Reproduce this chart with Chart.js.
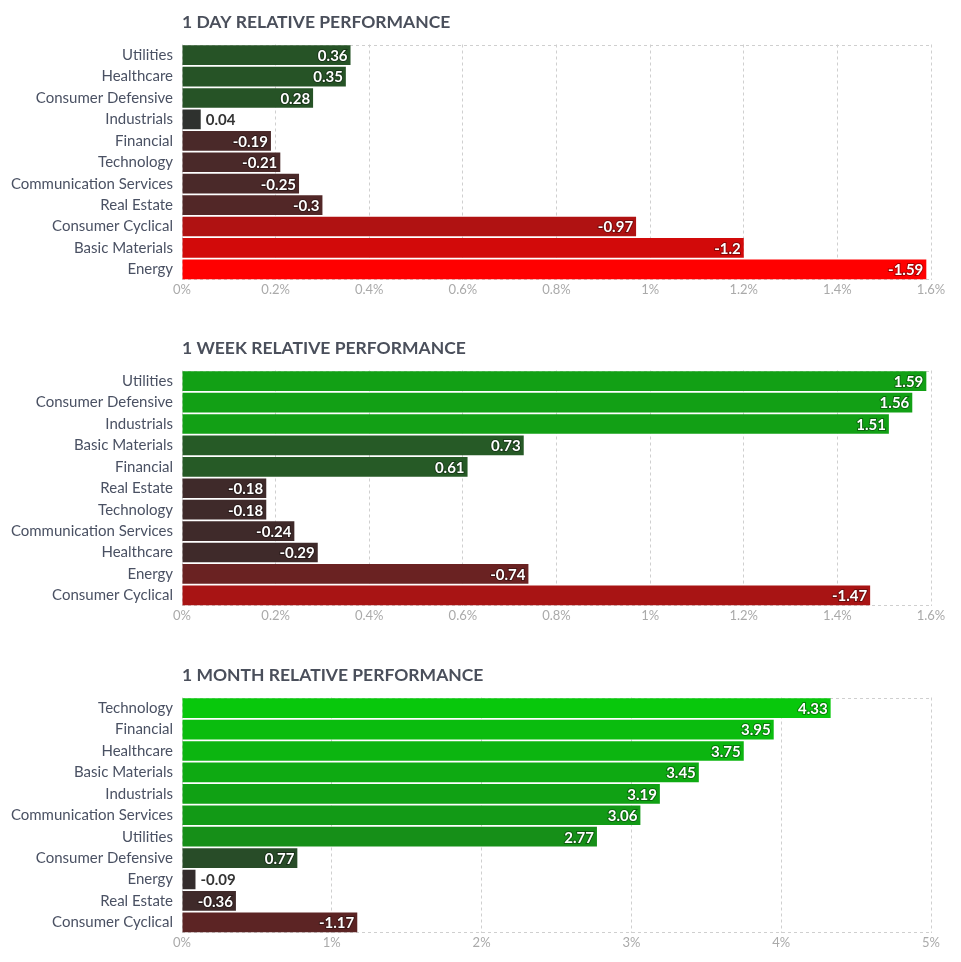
<!DOCTYPE html>
<html>
<head>
<meta charset="utf-8">
<script src="https://cdn.jsdelivr.net/npm/chart.js@4.4.1/dist/chart.umd.min.js"></script>
<style>
  html, body { margin: 0; padding: 0; background: #fff; overflow: hidden; }
  .block { position: absolute; left: 0; width: 961px; }
</style>
</head>
<body>
<div class="block" style="top:0;height:326px"><canvas id="day"></canvas></div>
<div class="block" style="top:326px;height:327px"><canvas id="week"></canvas></div>
<div class="block" style="top:653px;height:309px"><canvas id="month"></canvas></div>
<script>
// data
const dayTitle = '1 DAY RELATIVE PERFORMANCE'
const daySectors = ['Utilities', 'Healthcare', 'Consumer Defensive', 'Industrials', 'Financial', 'Technology',
    'Communication Services', 'Real Estate', 'Consumer Cyclical', 'Basic Materials', 'Energy']
const dayValues = [0.36, 0.35, 0.28, 0.04, -0.19, -0.21, -0.25, -0.3, -0.97, -1.2, -1.59]
const dayTicks = ['0%', '0.2%', '0.4%', '0.6%', '0.8%', '1%', '1.2%', '1.4%', '1.6%']

const weekTitle = '1 WEEK RELATIVE PERFORMANCE'
const weekSectors = ['Utilities', 'Consumer Defensive', 'Industrials', 'Basic Materials', 'Financial', 'Real Estate',
    'Technology', 'Communication Services', 'Healthcare', 'Energy', 'Consumer Cyclical']
const weekValues = [1.59, 1.56, 1.51, 0.73, 0.61, -0.18, -0.18, -0.24, -0.29, -0.74, -1.47]
const weekTicks = ['0%', '0.2%', '0.4%', '0.6%', '0.8%', '1%', '1.2%', '1.4%', '1.6%']

const monthTitle = '1 MONTH RELATIVE PERFORMANCE'
const monthSectors = ['Technology', 'Financial', 'Healthcare', 'Basic Materials', 'Industrials', 'Communication Services',
    'Utilities', 'Consumer Defensive', 'Energy', 'Real Estate', 'Consumer Cyclical']
const monthValues = [4.33, 3.95, 3.75, 3.45, 3.19, 3.06, 2.77, 0.77, -0.09, -0.36, -1.17]
const monthTicks = ['0%', '1%', '2%', '3%', '4%', '5%']

// bar colours (style, kept apart from the data)
const dayColors = ['#265326', '#265326', '#265326', '#2e312e', '#4a2929', '#4a2929', '#4a2929', '#522727',
    '#b01212', '#d20a0a', '#ff0000']
const weekColors = ['#12a015', '#12a015', '#12a015', '#265a26', '#265a26', '#3f2a2a', '#3f2a2a', '#3f2a2a',
    '#3f2a2a', '#6a2222', '#a81414']
const monthColors = ['#08c80c', '#0abc0e', '#0cb510', '#0eaa12', '#10a114', '#129a16', '#168f18', '#284c28',
    '#342d2d', '#3f2a2a', '#5c2424']

const FONT = 'Lato, "Noto Sans", sans-serif'
const GRID = '#cfcfcf'

const frame = {
    id: 'frame',
    beforeDatasetsDraw(chart) {
        const a = chart.chartArea, c = chart.ctx
        c.save()
        c.strokeStyle = GRID
        c.lineWidth = 1
        c.setLineDash([3, 3])
        c.beginPath()
        c.moveTo(a.left, Math.round(a.top) + 0.5); c.lineTo(a.right, Math.round(a.top) + 0.5)
        c.moveTo(a.left, Math.round(a.bottom) - 0.5); c.lineTo(a.right, Math.round(a.bottom) - 0.5)
        c.stroke()
        c.restore()
    }
}

const heading = {
    id: 'heading',
    afterDraw(chart, args, opts) {
        const c = chart.ctx
        c.save()
        c.font = 'bold 17.5px ' + FONT
        c.fillStyle = '#4a4f5b'
        c.textBaseline = 'middle'
        c.fillText(opts.text, chart.chartArea.left, 22)
        c.restore()
    }
}

const valueLabels = {
    id: 'valueLabels',
    afterDatasetsDraw(chart) {
        const c = chart.ctx
        const vals = chart.data.datasets[0].signed
        const meta = chart.getDatasetMeta(0)
        c.save()
        c.font = 'bold 15px ' + FONT
        c.textBaseline = 'middle'
        meta.data.forEach((bar, i) => {
            const txt = String(vals[i])
            const w = c.measureText(txt).width
            const len = bar.x - bar.base
            if (len > w + 8) {
                c.textAlign = 'right'
                c.lineWidth = 2
                c.strokeStyle = 'rgba(0,0,0,0.35)'
                c.strokeText(txt, bar.x - 3, bar.y + 1)
                c.fillStyle = '#ffffff'
                c.fillText(txt, bar.x - 3, bar.y + 1)
            } else {
                c.textAlign = 'left'
                c.fillStyle = '#333333'
                c.fillText(txt, bar.x + 5, bar.y + 1)
            }
        })
        c.restore()
    }
}

function makeChart(id, title, sectors, values, colors, ticks, step, height) {
    const el = document.getElementById(id)
    el.width = 961
    el.height = height
    return new Chart(el, {
        type: 'bar',
        data: {
            labels: sectors,
            datasets: [{
                data: values.map(v => Math.abs(v)),
                signed: values,
                backgroundColor: colors,
                borderWidth: 0,
                barPercentage: 0.92,
                categoryPercentage: 1
            }]
        },
        options: {
            indexAxis: 'y',
            responsive: false,
            animation: false,
            layout: { padding: { top: 44.5, right: 30, bottom: height - 280 - 20, left: 0 } },
            plugins: {
                legend: { display: false },
                tooltip: { enabled: false },
                heading: { text: title }
            },
            scales: {
                x: {
                    min: 0,
                    max: step * (ticks.length - 1),
                    afterBuildTicks(scale) {
                        scale.ticks = ticks.map((t, i) => ({ value: i * step }))
                    },
                    afterFit(scale) { scale.height = 20 },
                    ticks: {
                        padding: 2,
                        color: '#aaaaaa',
                        font: { family: FONT, size: 13 },
                        maxRotation: 0,
                        autoSkip: false,
                        callback: (v, i) => ticks[i]
                    },
                    grid: { color: GRID, drawTicks: false },
                    border: { display: false, dash: [3, 3] }
                },
                y: {
                    afterFit(scale) { scale.width = 182 },
                    ticks: {
                        padding: 9,
                        color: '#4a5163',
                        font: { family: FONT, size: 15 },
                        autoSkip: false
                    },
                    grid: { display: false, drawTicks: false },
                    border: { display: false }
                }
            }
        },
        plugins: [frame, heading, valueLabels]
    })
}

// dashed grid lines
Chart.defaults.scale.border.dash = [3, 3]

makeChart('day', dayTitle, daySectors, dayValues, dayColors, dayTicks, 0.2, 326)
makeChart('week', weekTitle, weekSectors, weekValues, weekColors, weekTicks, 0.2, 327)
makeChart('month', monthTitle, monthSectors, monthValues, monthColors, monthTicks, 1, 309)
</script>
</body>
</html>
